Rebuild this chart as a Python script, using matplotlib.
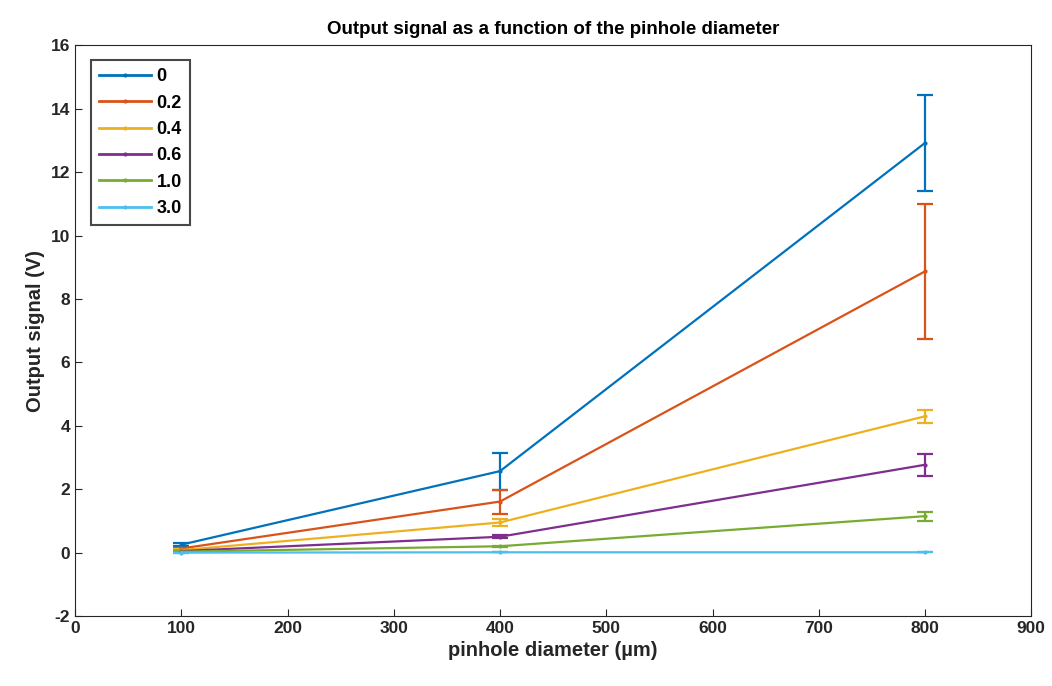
import matplotlib
matplotlib.use("Agg")
import matplotlib.pyplot as plt
from matplotlib.lines import Line2D

plt.rcParams['font.family'] = ['Liberation Sans', 'DejaVu Sans']
plt.rcParams['font.weight'] = 'bold'
plt.rcParams['axes.unicode_minus'] = False

diameters = [100, 400, 800]
labels = ['0', '0.2', '0.4', '0.6', '1.0', '3.0']
colors = ['#0072BD', '#D95319', '#EDB120', '#7E2F8E', '#77AC30', '#4DBEEE']
signal = [
    [0.25, 2.57, 12.92],
    [0.13, 1.61, 8.87],
    [0.08, 0.95, 4.30],
    [0.05, 0.50, 2.77],
    [0.03, 0.20, 1.15],
    [0.00, 0.01, 0.01],
]
errors = [
    [0.05, 0.58, 1.52],
    [0.03, 0.38, 2.13],
    [0.02, 0.10, 0.20],
    [0.01, 0.05, 0.34],
    [0.01, 0.02, 0.14],
    [0.00, 0.00, 0.00],
]

fig = plt.figure(figsize=(10.52, 6.86), dpi=100)
ax = fig.add_axes([0.0713, 0.102, 0.909, 0.832])

handles = []
for lab, col, y, e in zip(labels, colors, signal, errors):
    ax.errorbar(diameters, y, yerr=e, color=col, marker='.', markersize=4,
                linewidth=1.6, capsize=5.5, capthick=1.6, elinewidth=1.6)
    handles.append(Line2D([], [], color=col, marker='.', markersize=4, linewidth=2, label=lab))

ax.set_xlim(0, 900)
ax.set_ylim(-2, 16)
ax.set_xticks(range(0, 901, 100))
ax.set_yticks(range(-2, 17, 2))
ax.tick_params(direction='in', length=5, labelsize=12.5, top=False, right=False, colors='#262626')
for lbl in ax.get_xticklabels() + ax.get_yticklabels():
    lbl.set_fontweight('bold')
for s in ax.spines.values():
    s.set_color('#262626')
    s.set_linewidth(0.8)

ax.set_title('Output signal as a function of the pinhole diameter', fontsize=13.5, fontweight='bold', pad=8)
ax.set_xlabel('pinhole diameter (µm)', fontsize=14.5, fontweight='bold', color='#262626')
ax.set_ylabel('Output signal (V)', fontsize=14.5, fontweight='bold', color='#262626')

leg = ax.legend(handles=handles, loc='upper left', fontsize=13, handlelength=2.9, handletextpad=0.3,
                labelspacing=0.52, borderpad=0.45, fancybox=False, edgecolor='#1a1a1a',
                bbox_to_anchor=(0.007, 0.99))
leg.get_frame().set_linewidth(1.5)
for t in leg.get_texts():
    t.set_fontweight('bold')

fig.savefig('out.png', dpi=100)
